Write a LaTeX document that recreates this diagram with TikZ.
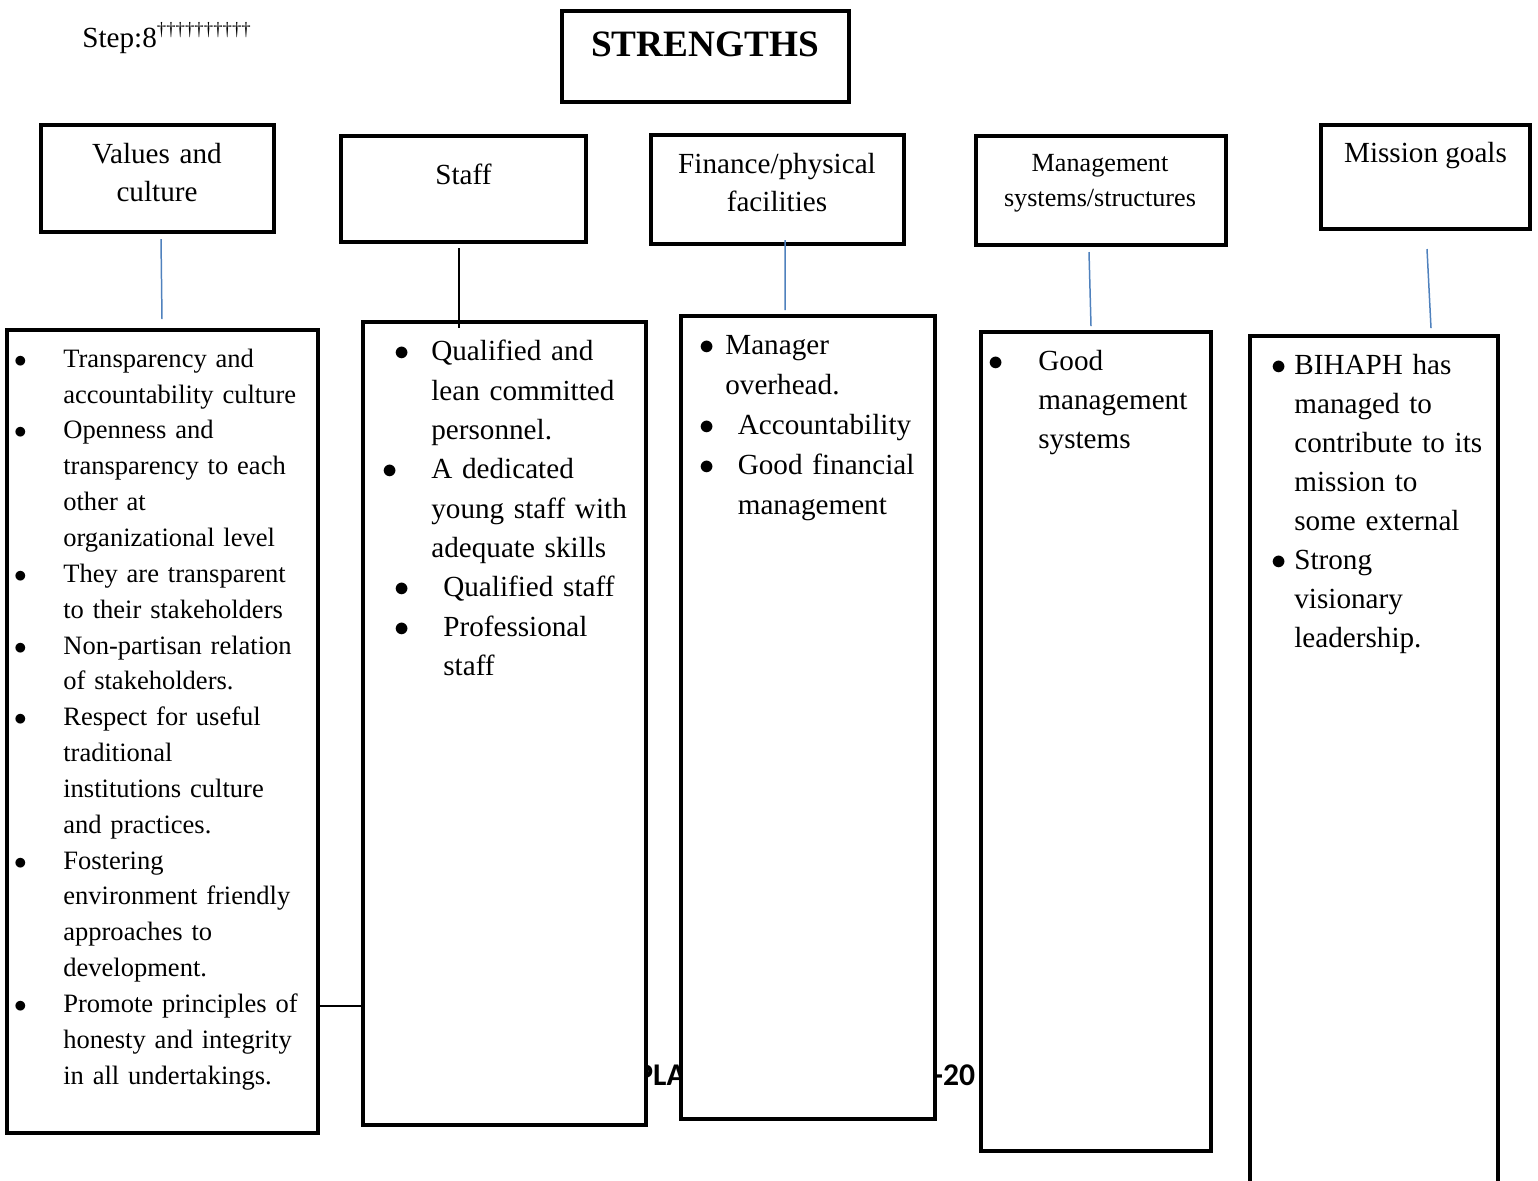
\documentclass[tikz,border=0pt]{standalone}
\usepackage{fontspec}
\setmainfont{Liberation Serif}
\newfontfamily\footfont{Carlito}
\usetikzlibrary{calc}

\definecolor{linkblue}{RGB}{79,129,189}

% bullet line: [extra indent]{bullet distance}{text}
\newcommand{\bitem}[3][0pt]{\noindent\hangindent=#1\hangafter=0%
  \llap{\makebox[#2][l]{\makebox[0pt]{$\bullet$}}}#3\par}

\tikzset{
  box/.style={draw, line width=2.3pt, fill=white, inner sep=0pt},
  headtext/.style={anchor=base, align=center, inner sep=0pt,
    font=\fontsize{16.6}{21.9}\selectfont},
  listtext/.style={anchor=base west, text width=6cm, inner sep=0pt,
    font=\fontsize{16.6}{22.4}\selectfont},
  bluelink/.style={draw=linkblue, line width=0.85pt},
  blacklink/.style={draw=black, line width=0.9pt}
}

\begin{document}
\begin{tikzpicture}[x=0.02cm, y=-0.02cm]
\useasboundingbox (0,0) rectangle (1538,1180);

% footer text, mostly hidden by the boxes
\node (footl) [anchor=base west, inner sep=0pt, font=\footfont\bfseries\fontsize{18}{18}\selectfont] at (636,1085) {PLA};
\node (footr) [anchor=base west, inner sep=0pt, font=\footfont\bfseries\fontsize{18}{18}\selectfont] at (933,1085) {-20};

\node (step) [anchor=base west, inner sep=0pt, font=\fontsize{16.6}{20}\selectfont] at (82,47.3)
  {Step:8\raisebox{6.6pt}{\fontsize{10.7}{11}\selectfont\textdagger\textdagger\textdagger\textdagger\textdagger\textdagger\textdagger\textdagger\textdagger\textdagger}};

% title
\node (strengths) [box, minimum width=5.74cm, minimum height=1.82cm] at (705.5,56.5) {};
\node (strengthsT) [anchor=base, inner sep=0pt, font=\bfseries\fontsize{21.2}{24}\selectfont] at (705,56.5) {STRENGTHS};

% headers
\node (values) [box, minimum width=4.66cm, minimum height=2.14cm] at (157.5,178.5) {};
\node (staff) [box, minimum width=4.90cm, minimum height=2.12cm] at (463.5,189) {};
\node (finance) [box, minimum width=5.06cm, minimum height=2.18cm] at (777.5,189.5) {};
\node (mgmt) [box, minimum width=5.00cm, minimum height=2.18cm] at (1101,190.5) {};
\node (mission) [box, minimum width=4.18cm, minimum height=2.08cm] at (1425.5,177) {};

\node (valuesT) [headtext, text width=4.6cm] at (157,163.3) {Values and\\culture};
\node (staffT) [headtext] at (463.5,184.3) {Staff};
\node (financeT) [headtext, text width=5cm] at (777,173.3) {Finance/physical\\facilities};
\node (mgmtT) [headtext, text width=5cm, font=\fontsize{14.9}{19.9}\selectfont] at (1100,171.7) {Management\\systems/structures};
\node (missionT) [headtext] at (1425.5,162.7) {Mission goals};

% lists
\node (b1) [box, minimum width=6.22cm, minimum height=16.06cm] at (162.5,731.5) {};
\node (b2) [box, minimum width=5.66cm, minimum height=16.06cm] at (504.5,723.5) {};
\node (b3) [box, minimum width=5.08cm, minimum height=16.06cm] at (808,717.5) {};
\node (b4) [box, minimum width=4.60cm, minimum height=16.38cm] at (1096,741.5) {};
\node (b5) [box, minimum width=4.96cm, minimum height=17.24cm] at (1374,767) {};

\node (b1T) [listtext, font=\fontsize{15.1}{20.4}\selectfont] at (63,367.3) {%
  \bitem{0.86cm}{Transparency and\newline accountability culture}
  \bitem{0.86cm}{Openness and\newline transparency to each\newline other at\newline organizational level}
  \bitem{0.86cm}{They are transparent\newline to their stakeholders}
  \bitem{0.86cm}{Non-partisan relation\newline of stakeholders.}
  \bitem{0.86cm}{Respect for useful\newline traditional\newline institutions culture\newline and practices.}
  \bitem{0.86cm}{Fostering\newline environment friendly\newline approaches to\newline development.}
  \bitem{0.86cm}{Promote principles of\newline honesty and integrity\newline in all undertakings.}};

\node (b2T) [listtext] at (431,360.7) {%
  \bitem{0.58cm}{Qualified and\newline lean committed\newline personnel.}
  \bitem{0.82cm}{A dedicated\newline young staff with\newline adequate skills}
  \bitem[0.24cm]{0.82cm}{Qualified staff}
  \bitem[0.24cm]{0.82cm}{Professional\newline staff}};

\node (b3T) [listtext, font=\fontsize{16.6}{22.8}\selectfont] at (725,354) {%
  \bitem{0.36cm}{Manager\newline overhead.}
  \bitem[0.25cm]{0.61cm}{Accountability}
  \bitem[0.25cm]{0.61cm}{Good financial\newline management}};

\node (b4T) [listtext, font=\fontsize{16.6}{22.2}\selectfont] at (1038,370.7) {%
  \bitem{0.84cm}{Good\newline management\newline systems}};

\node (b5T) [listtext, font=\fontsize{16.6}{22.2}\selectfont] at (1294,374) {%
  \bitem{0.30cm}{BIHAPH has\newline managed to\newline contribute to its\newline mission to\newline some external}
  \bitem{0.30cm}{Strong\newline visionary\newline leadership.}};

% connectors
\draw[bluelink] ($(values.south)+(3.5,5)$) -- ($(b1.north)+(-0.5,-9)$);
\draw[blacklink] ($(staff.south)+(-4.5,4)$) -- ($(b2.north)+(-45.5,8)$);
\draw[bluelink] ($(finance.south)+(7.5,-6)$) -- ($(b3.north)+(-23,-4)$);
\draw[bluelink] ($(mgmt.south)+(-12,5)$) -- ($(b4.north)+(-5,-4)$);
\draw[bluelink] ($(mission.south)+(1.5,18)$) -- ($(b5.north)+(57,-6)$);
\coordinate (hl) at (0,1006);
\draw[line width=1.1pt] (b1.east |- hl) -- (b2.west |- hl);
\end{tikzpicture}
\end{document}
